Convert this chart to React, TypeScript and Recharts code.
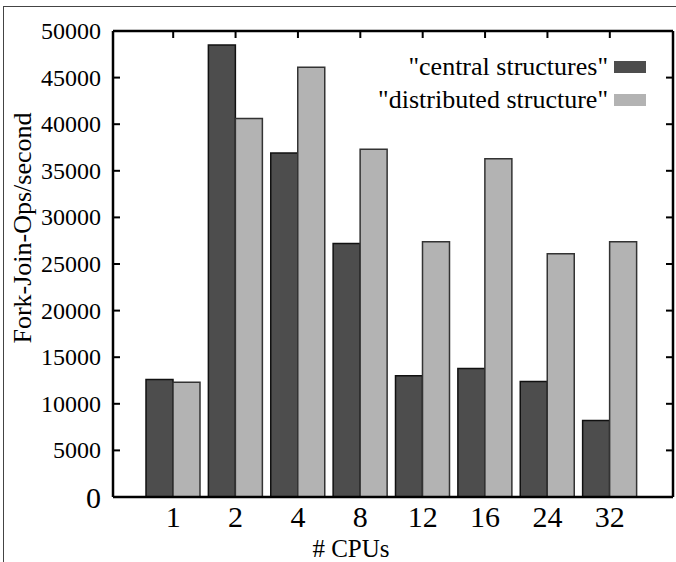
import { ComposedChart, Bar, Line, XAxis, YAxis, Legend } from 'recharts'

const cpus = ['1', '2', '4', '8', '12', '16', '24', '32']
const central = [12600, 48500, 36900, 27200, 13000, 13800, 12400, 8200]
const distributed = [12300, 40600, 46100, 37300, 27400, 36300, 26100, 27400]
const yTicks = [0, 5000, 10000, 15000, 20000, 25000, 30000, 35000, 40000, 45000, 50000]

const data = cpus.map((cpu, i) => ({
  cpu,
  central: central[i],
  distributed: distributed[i],
}))

const FONT = 'Liberation Serif, Tinos, Times New Roman, Nimbus Roman, DejaVu Serif, serif'
const AXIS_LINE = { stroke: '#000', strokeWidth: 2.5 }
const TICK_LINE = { stroke: '#000', strokeWidth: 2 }

function YTick(props: { x: number; y: number; payload: { value: number } }) {
  const { x, y, payload } = props
  return (
    <text
      x={x}
      y={y}
      textAnchor="end"
      dominantBaseline="central"
      fontFamily={FONT}
      fontSize={payload.value === 0 ? 30 : 24}
      fill="#000"
    >
      {payload.value}
    </text>
  )
}

function LegendBox(props: { payload?: { value: string; color: string; type?: string }[] }) {
  return (
    <div style={{ fontFamily: FONT, fontSize: 26, color: '#000' }}>
      {(props.payload ?? [])
        .filter(item => item.type !== 'none')
        .map(item => (
          <div
            key={item.value}
            style={{ display: 'flex', justifyContent: 'flex-end', alignItems: 'center', height: 33 }}
          >
            <span style={{ whiteSpace: 'nowrap' }}>"{item.value}"</span>
            <span
              style={{ display: 'inline-block', width: 32, height: 12, marginLeft: 6, backgroundColor: item.color }}
            />
          </div>
        ))}
    </div>
  )
}

export default function App() {
  return (
    <div style={{ position: 'absolute', left: 0, top: 0, width: 676, height: 562, background: '#fff' }}>
      {/* outer frame */}
      <div
        style={{
          position: 'absolute',
          left: 3,
          top: 6,
          right: 0,
          bottom: 0,
          borderLeft: '1.5px solid #444',
          borderTop: '1.5px solid #444',
        }}
      />
      <ComposedChart
        width={676}
        height={562}
        data={data}
        margin={{ top: 30, right: 2, left: 0, bottom: 0 }}
        barSize={27}
        barGap={0}
        style={{ position: 'absolute', left: 0, top: 0 }}
      >
        <XAxis
          xAxisId="bottom"
          dataKey="cpu"
          height={65}
          padding={{ left: 29, right: 32 }}
          axisLine={AXIS_LINE}
          tickLine={false}
          tickSize={0}
          tickMargin={9}
          tick={{ fill: '#000', fontSize: 30, fontFamily: FONT }}
          label={{
            value: '# CPUs',
            position: 'insideBottom',
            offset: 5,
            dx: -42,
            fill: '#000',
            fontSize: 25,
            fontFamily: FONT,
          }}
        />
        <XAxis
          xAxisId="top"
          dataKey="cpu"
          orientation="top"
          height={1}
          padding={{ left: 29, right: 32 }}
          axisLine={AXIS_LINE}
          tickLine={TICK_LINE}
          tickSize={-7}
          tick={() => null}
        />
        <YAxis
          yAxisId="left"
          width={113}
          domain={[0, 50000]}
          ticks={yTicks}
          allowDataOverflow
          axisLine={AXIS_LINE}
          tickLine={TICK_LINE}
          tickSize={-7}
          tickMargin={19}
          tick={YTick}
          label={{
            content: ({ viewBox }: { viewBox?: { x: number; y: number; width: number; height: number } }) => {
              if (!viewBox) return null
              const cx = viewBox.x + 22
              const cy = viewBox.y + viewBox.height / 2 - 36
              return (
                <text
                  x={cx}
                  y={cy}
                  transform={`rotate(-90 ${cx} ${cy})`}
                  textAnchor="middle"
                  dominantBaseline="central"
                  fontFamily={FONT}
                  fontSize={26}
                  fill="#000"
                >
                  Fork-Join-Ops/second
                </text>
              )
            },
          }}
        />
        <YAxis
          yAxisId="right"
          orientation="right"
          width={1}
          domain={[0, 50000]}
          ticks={yTicks}
          allowDataOverflow
          axisLine={AXIS_LINE}
          tickLine={TICK_LINE}
          tickSize={-7}
          tick={() => null}
        />
        <Legend
          layout="vertical"
          align="center"
          verticalAlign="middle"
          content={<LegendBox />}
          wrapperStyle={{ top: 50, right: 30, left: 'auto', width: 'auto' }}
        />
        <Bar
          xAxisId="bottom"
          yAxisId="left"
          dataKey="central"
          name="central structures"
          fill="#4d4d4d"
          stroke="#111"
          strokeWidth={1.5}
          isAnimationActive={false}
        />
        <Bar
          xAxisId="bottom"
          yAxisId="left"
          dataKey="distributed"
          name="distributed structure"
          fill="#b3b3b3"
          stroke="#333"
          strokeWidth={1.5}
          isAnimationActive={false}
        />
        {/* invisible series so the mirrored top/right axes get drawn */}
        <Line
          xAxisId="top"
          yAxisId="right"
          dataKey="central"
          stroke="none"
          dot={false}
          activeDot={false}
          legendType="none"
          isAnimationActive={false}
        />
      </ComposedChart>
    </div>
  )
}
